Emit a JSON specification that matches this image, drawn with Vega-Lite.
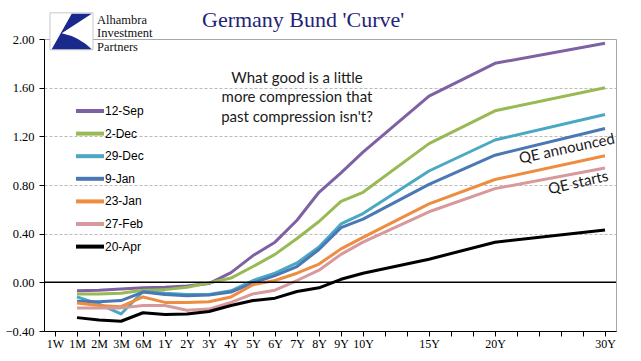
{
  "$schema": "https://vega.github.io/schema/vega-lite/v6.json",
  "width": 572,
  "height": 292,
  "autosize": {"type": "none"},
  "padding": {"left": 44, "top": 39, "right": 25, "bottom": 30},
  "background": "white",
  "title": {"text": "Germany Bund 'Curve'", "anchor": "start", "frame": "group", "dx": 158, "offset": -38, "baseline": "alphabetic", "font": "Liberation Serif", "fontSize": 22, "fontWeight": "normal", "color": "#1f2478"},
  "config": {"view": {"stroke": "#a6a6a6", "strokeWidth": 1}},
  "datasets": {
    "curves": [
      {"date": "12-Sep", "tenor": "1M", "yield": -0.07}, {"date": "12-Sep", "tenor": "2M", "yield": -0.065}, {"date": "12-Sep", "tenor": "3M", "yield": -0.055}, {"date": "12-Sep", "tenor": "6M", "yield": -0.045}, {"date": "12-Sep", "tenor": "1Y", "yield": -0.04}, {"date": "12-Sep", "tenor": "2Y", "yield": -0.03}, {"date": "12-Sep", "tenor": "3Y", "yield": -0.01}, {"date": "12-Sep", "tenor": "4Y", "yield": 0.08}, {"date": "12-Sep", "tenor": "5Y", "yield": 0.22}, {"date": "12-Sep", "tenor": "6Y", "yield": 0.33}, {"date": "12-Sep", "tenor": "7Y", "yield": 0.51}, {"date": "12-Sep", "tenor": "8Y", "yield": 0.74}, {"date": "12-Sep", "tenor": "9Y", "yield": 0.9}, {"date": "12-Sep", "tenor": "10Y", "yield": 1.07}, {"date": "12-Sep", "tenor": "15Y", "yield": 1.53}, {"date": "12-Sep", "tenor": "20Y", "yield": 1.8}, {"date": "12-Sep", "tenor": "30Y", "yield": 1.965},
      {"date": "2-Dec", "tenor": "1M", "yield": -0.095}, {"date": "2-Dec", "tenor": "2M", "yield": -0.095}, {"date": "2-Dec", "tenor": "3M", "yield": -0.09}, {"date": "2-Dec", "tenor": "6M", "yield": -0.065}, {"date": "2-Dec", "tenor": "1Y", "yield": -0.06}, {"date": "2-Dec", "tenor": "2Y", "yield": -0.04}, {"date": "2-Dec", "tenor": "3Y", "yield": -0.005}, {"date": "2-Dec", "tenor": "4Y", "yield": 0.035}, {"date": "2-Dec", "tenor": "5Y", "yield": 0.13}, {"date": "2-Dec", "tenor": "6Y", "yield": 0.23}, {"date": "2-Dec", "tenor": "7Y", "yield": 0.36}, {"date": "2-Dec", "tenor": "8Y", "yield": 0.5}, {"date": "2-Dec", "tenor": "9Y", "yield": 0.665}, {"date": "2-Dec", "tenor": "10Y", "yield": 0.74}, {"date": "2-Dec", "tenor": "15Y", "yield": 1.14}, {"date": "2-Dec", "tenor": "20Y", "yield": 1.41}, {"date": "2-Dec", "tenor": "30Y", "yield": 1.6},
      {"date": "29-Dec", "tenor": "1M", "yield": -0.12}, {"date": "29-Dec", "tenor": "2M", "yield": -0.18}, {"date": "29-Dec", "tenor": "3M", "yield": -0.26}, {"date": "29-Dec", "tenor": "6M", "yield": -0.075}, {"date": "29-Dec", "tenor": "1Y", "yield": -0.09}, {"date": "29-Dec", "tenor": "2Y", "yield": -0.1}, {"date": "29-Dec", "tenor": "3Y", "yield": -0.1}, {"date": "29-Dec", "tenor": "4Y", "yield": -0.07}, {"date": "29-Dec", "tenor": "5Y", "yield": 0.015}, {"date": "29-Dec", "tenor": "6Y", "yield": 0.075}, {"date": "29-Dec", "tenor": "7Y", "yield": 0.16}, {"date": "29-Dec", "tenor": "8Y", "yield": 0.29}, {"date": "29-Dec", "tenor": "9Y", "yield": 0.48}, {"date": "29-Dec", "tenor": "10Y", "yield": 0.565}, {"date": "29-Dec", "tenor": "15Y", "yield": 0.915}, {"date": "29-Dec", "tenor": "20Y", "yield": 1.17}, {"date": "29-Dec", "tenor": "30Y", "yield": 1.38},
      {"date": "9-Jan", "tenor": "1M", "yield": -0.155}, {"date": "9-Jan", "tenor": "2M", "yield": -0.16}, {"date": "9-Jan", "tenor": "3M", "yield": -0.15}, {"date": "9-Jan", "tenor": "6M", "yield": -0.08}, {"date": "9-Jan", "tenor": "1Y", "yield": -0.1}, {"date": "9-Jan", "tenor": "2Y", "yield": -0.11}, {"date": "9-Jan", "tenor": "3Y", "yield": -0.105}, {"date": "9-Jan", "tenor": "4Y", "yield": -0.08}, {"date": "9-Jan", "tenor": "5Y", "yield": -0.005}, {"date": "9-Jan", "tenor": "6Y", "yield": 0.055}, {"date": "9-Jan", "tenor": "7Y", "yield": 0.13}, {"date": "9-Jan", "tenor": "8Y", "yield": 0.27}, {"date": "9-Jan", "tenor": "9Y", "yield": 0.45}, {"date": "9-Jan", "tenor": "10Y", "yield": 0.52}, {"date": "9-Jan", "tenor": "15Y", "yield": 0.805}, {"date": "9-Jan", "tenor": "20Y", "yield": 1.045}, {"date": "9-Jan", "tenor": "30Y", "yield": 1.265},
      {"date": "23-Jan", "tenor": "1M", "yield": -0.17}, {"date": "23-Jan", "tenor": "2M", "yield": -0.19}, {"date": "23-Jan", "tenor": "3M", "yield": -0.2}, {"date": "23-Jan", "tenor": "6M", "yield": -0.12}, {"date": "23-Jan", "tenor": "1Y", "yield": -0.165}, {"date": "23-Jan", "tenor": "2Y", "yield": -0.165}, {"date": "23-Jan", "tenor": "3Y", "yield": -0.16}, {"date": "23-Jan", "tenor": "4Y", "yield": -0.12}, {"date": "23-Jan", "tenor": "5Y", "yield": -0.02}, {"date": "23-Jan", "tenor": "6Y", "yield": 0.015}, {"date": "23-Jan", "tenor": "7Y", "yield": 0.075}, {"date": "23-Jan", "tenor": "8Y", "yield": 0.15}, {"date": "23-Jan", "tenor": "9Y", "yield": 0.275}, {"date": "23-Jan", "tenor": "10Y", "yield": 0.37}, {"date": "23-Jan", "tenor": "15Y", "yield": 0.645}, {"date": "23-Jan", "tenor": "20Y", "yield": 0.845}, {"date": "23-Jan", "tenor": "30Y", "yield": 1.04},
      {"date": "27-Feb", "tenor": "1M", "yield": -0.21}, {"date": "27-Feb", "tenor": "2M", "yield": -0.21}, {"date": "27-Feb", "tenor": "3M", "yield": -0.21}, {"date": "27-Feb", "tenor": "6M", "yield": -0.19}, {"date": "27-Feb", "tenor": "1Y", "yield": -0.19}, {"date": "27-Feb", "tenor": "2Y", "yield": -0.23}, {"date": "27-Feb", "tenor": "3Y", "yield": -0.22}, {"date": "27-Feb", "tenor": "4Y", "yield": -0.165}, {"date": "27-Feb", "tenor": "5Y", "yield": -0.095}, {"date": "27-Feb", "tenor": "6Y", "yield": -0.065}, {"date": "27-Feb", "tenor": "7Y", "yield": 0.015}, {"date": "27-Feb", "tenor": "8Y", "yield": 0.1}, {"date": "27-Feb", "tenor": "9Y", "yield": 0.23}, {"date": "27-Feb", "tenor": "10Y", "yield": 0.33}, {"date": "27-Feb", "tenor": "15Y", "yield": 0.58}, {"date": "27-Feb", "tenor": "20Y", "yield": 0.77}, {"date": "27-Feb", "tenor": "30Y", "yield": 0.94},
      {"date": "20-Apr", "tenor": "1M", "yield": -0.29}, {"date": "20-Apr", "tenor": "2M", "yield": -0.31}, {"date": "20-Apr", "tenor": "3M", "yield": -0.32}, {"date": "20-Apr", "tenor": "6M", "yield": -0.25}, {"date": "20-Apr", "tenor": "1Y", "yield": -0.265}, {"date": "20-Apr", "tenor": "2Y", "yield": -0.26}, {"date": "20-Apr", "tenor": "3Y", "yield": -0.24}, {"date": "20-Apr", "tenor": "4Y", "yield": -0.19}, {"date": "20-Apr", "tenor": "5Y", "yield": -0.15}, {"date": "20-Apr", "tenor": "6Y", "yield": -0.13}, {"date": "20-Apr", "tenor": "7Y", "yield": -0.075}, {"date": "20-Apr", "tenor": "8Y", "yield": -0.045}, {"date": "20-Apr", "tenor": "9Y", "yield": 0.025}, {"date": "20-Apr", "tenor": "10Y", "yield": 0.075}, {"date": "20-Apr", "tenor": "15Y", "yield": 0.19}, {"date": "20-Apr", "tenor": "20Y", "yield": 0.33}, {"date": "20-Apr", "tenor": "30Y", "yield": 0.43}
    ]
  },
  "layer": [
    {
      "data": {"name": "curves"},
      "mark": {"type": "line", "strokeWidth": 3, "strokeJoin": "round"},
      "encoding": {
        "x": {
          "field": "tenor", "type": "ordinal",
          "scale": {"domain": ["1W","1M","2M","3M","6M","1Y","2Y","3Y","4Y","5Y","6Y","7Y","8Y","9Y","10Y","b1","b2","15Y","b3","b4","20Y","b5","b6","b7","b8","30Y"], "paddingInner": 0, "paddingOuter": 0},
          "axis": {"title": null, "bandPosition": 0, "labelDx": 11, "labelAngle": 0, "labelOverlap": false, "labelExpr": "indexof(datum.label, 'b') == 0 ? '' : datum.label", "domainColor": "black", "domainWidth": 1, "tickColor": "black", "tickSize": 5, "labelPadding": 2, "labelFont": "Liberation Serif", "labelFontSize": 12, "labelColor": "black", "grid": false}
        },
        "y": {
          "field": "yield", "type": "quantitative",
          "scale": {"domain": [-0.4, 2.0], "nice": false, "zero": false},
          "axis": {"title": null, "values": [-0.4, 0, 0.4, 0.8, 1.2, 1.6, 2.0], "format": ".2f", "grid": true, "gridColor": "#a8a8a8", "gridDash": [3, 2], "gridWidth": 0.8, "domainColor": "black", "domainWidth": 1, "tickColor": "black", "tickSize": 5, "labelPadding": 5, "labelFont": "Liberation Serif", "labelFontSize": 12.5, "labelColor": "black"}
        },
        "color": {
          "field": "date", "type": "nominal",
          "scale": {"domain": ["12-Sep","2-Dec","29-Dec","9-Jan","23-Jan","27-Feb","20-Apr"], "range": ["#7d61a3","#98b954","#4aa8c2","#4a78b4","#ee8c40","#d7999b","#000000"]},
          "legend": {"orient": "none", "legendX": 34, "legendY": 60, "title": null, "symbolType": "M-1.4,0H1.4", "symbolSize": 400, "symbolStrokeWidth": 4, "labelFont": "Liberation Sans", "labelFontSize": 12, "labelColor": "black", "labelOffset": 3, "rowPadding": 2.6, "padding": 0}
        },
        "order": {"value": null}
      }
    },
    {
      "data": {"values": [{}]},
      "mark": {"type": "rule", "color": "black", "strokeWidth": 1.5},
      "encoding": {"y": {"datum": 0}}
    },
    {
      "data": {"values": [{}]},
      "mark": {"type": "text", "lineBreak": "\n", "align": "center", "baseline": "middle", "lineHeight": 19.5, "font": "Lato", "fontSize": 15, "color": "#1a1a1a"},
      "encoding": {"x": {"datum": "7Y", "type": "ordinal"}, "y": {"datum": 1.68}, "text": {"value": "What good is a little\nmore compression that\npast compression isn't?"}}
    },
    {
      "data": {"values": [{}]},
      "mark": {"type": "text", "align": "center", "baseline": "middle", "angle": -12, "dx": 6, "font": "Lato", "fontSize": 15, "color": "#1a1a1a"},
      "encoding": {"x": {"datum": "b7", "type": "ordinal"}, "y": {"datum": 1.09}, "text": {"value": "QE announced"}}
    },
    {
      "data": {"values": [{}]},
      "mark": {"type": "text", "align": "center", "baseline": "middle", "angle": -13, "dx": -5, "font": "Lato", "fontSize": 15, "color": "#1a1a1a"},
      "encoding": {"x": {"datum": "b8", "type": "ordinal"}, "y": {"datum": 0.83}, "text": {"value": "QE starts"}}
    },
    {
      "data": {"values": [{}]},
      "mark": {"type": "point", "filled": true, "shape": "M-1.256,-0.86H0.744V0.86H-1.256Z", "size": 1849, "fill": "white", "stroke": "#c8c8c8", "strokeWidth": 1, "opacity": 1},
      "encoding": {"x": {"datum": "1M", "type": "ordinal"}, "y": {"datum": 2.063}}
    },
    {
      "data": {"values": [{}]},
      "mark": {"type": "point", "filled": true, "shape": "M-0.247,-0.814L0.684,-0.814L-0.712,0.084Q0.1,0.25 0.684,0.828L-1.177,0.828Z", "size": 1849, "color": "#1a2a8c", "opacity": 1},
      "encoding": {"x": {"datum": "1M", "type": "ordinal"}, "y": {"datum": 2.063}}
    },
    {
      "data": {"values": [{}]},
      "mark": {"type": "text", "lineBreak": "\n", "align": "left", "baseline": "middle", "lineHeight": 13.5, "dx": -2, "font": "Liberation Serif", "fontSize": 12.5, "color": "#111111"},
      "encoding": {"x": {"datum": "2M", "type": "ordinal"}, "y": {"datum": 2.16}, "text": {"value": "Alhambra\nInvestment\nPartners"}}
    }
  ]
}
